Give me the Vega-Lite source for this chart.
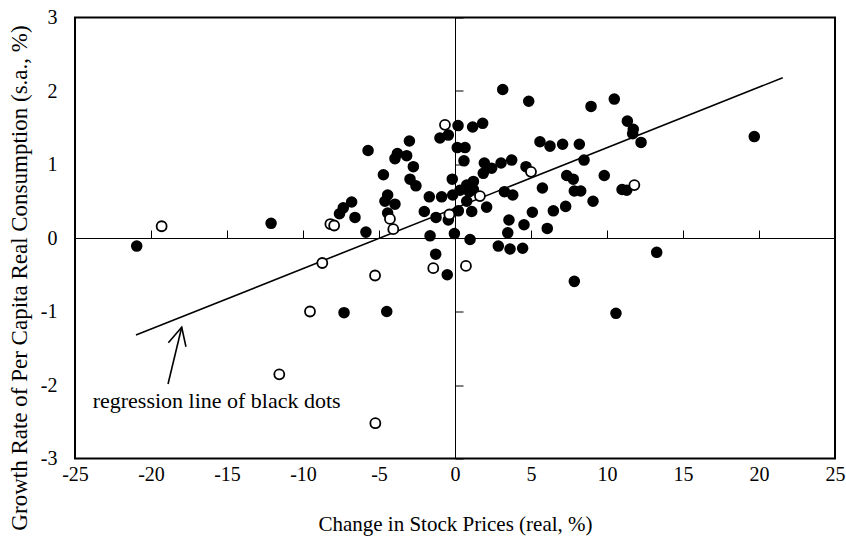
{
  "$schema": "https://vega.github.io/schema/vega-lite/v6.json",
  "width": 760,
  "height": 441,
  "autosize": {"type": "none"},
  "padding": {"left": 75, "top": 17.5, "right": 11, "bottom": 86.5},
  "background": "white",
  "config": {
    "view": {"stroke": "black", "strokeWidth": 2},
    "font": "Times New Roman, Liberation Serif, serif",
    "axis": {"grid": false, "labelColor": "black", "titleColor": "black", "titleFontWeight": "normal", "labelFont": "Times New Roman, Liberation Serif, serif", "titleFont": "Times New Roman, Liberation Serif, serif"}
  },
  "datasets": {
    "points": [
      {"x": -20.94, "y": -0.11, "type": "black"},
      {"x": -12.1, "y": 0.2, "type": "black"},
      {"x": -7.6, "y": 0.33, "type": "black"},
      {"x": -7.35, "y": 0.41, "type": "black"},
      {"x": -6.8, "y": 0.49, "type": "black"},
      {"x": -6.58, "y": 0.28, "type": "black"},
      {"x": -5.86, "y": 0.08, "type": "black"},
      {"x": -5.72, "y": 1.19, "type": "black"},
      {"x": -4.71, "y": 0.86, "type": "black"},
      {"x": -4.43, "y": 0.585, "type": "black"},
      {"x": -4.61, "y": 0.5, "type": "black"},
      {"x": -3.95, "y": 0.46, "type": "black"},
      {"x": -4.43, "y": 0.34, "type": "black"},
      {"x": -3.79, "y": 1.15, "type": "black"},
      {"x": -3.95, "y": 1.08, "type": "black"},
      {"x": -3.18, "y": 1.12, "type": "black"},
      {"x": -3.0, "y": 1.32, "type": "black"},
      {"x": -2.74, "y": 0.97, "type": "black"},
      {"x": -2.96, "y": 0.8, "type": "black"},
      {"x": -2.57, "y": 0.71, "type": "black"},
      {"x": -1.69, "y": 0.56, "type": "black"},
      {"x": -2.02, "y": 0.36, "type": "black"},
      {"x": -1.25, "y": 0.28, "type": "black"},
      {"x": -1.64, "y": 0.03, "type": "black"},
      {"x": -0.88, "y": 0.56, "type": "black"},
      {"x": -0.18, "y": 0.8, "type": "black"},
      {"x": -0.15, "y": 0.585, "type": "black"},
      {"x": -0.44, "y": 0.245, "type": "black"},
      {"x": -0.04, "y": 0.06, "type": "black"},
      {"x": -0.99, "y": 1.36, "type": "black"},
      {"x": -0.44, "y": 1.4, "type": "black"},
      {"x": 0.2, "y": 1.53, "type": "black"},
      {"x": 0.15, "y": 1.23, "type": "black"},
      {"x": 0.66, "y": 1.23, "type": "black"},
      {"x": 1.16, "y": 1.51, "type": "black"},
      {"x": 1.82, "y": 1.56, "type": "black"},
      {"x": 3.14, "y": 2.02, "type": "black"},
      {"x": 4.85, "y": 1.86, "type": "black"},
      {"x": 8.95, "y": 1.79, "type": "black"},
      {"x": 10.48, "y": 1.89, "type": "black"},
      {"x": 11.34, "y": 1.59, "type": "black"},
      {"x": 11.73, "y": 1.48, "type": "black"},
      {"x": 11.69, "y": 1.42, "type": "black"},
      {"x": 12.24, "y": 1.3, "type": "black"},
      {"x": 19.69, "y": 1.38, "type": "black"},
      {"x": 0.59, "y": 1.05, "type": "black"},
      {"x": 1.93, "y": 1.02, "type": "black"},
      {"x": 3.03, "y": 1.02, "type": "black"},
      {"x": 3.73, "y": 1.06, "type": "black"},
      {"x": 2.41, "y": 0.95, "type": "black"},
      {"x": 1.86, "y": 0.88, "type": "black"},
      {"x": 4.67, "y": 0.97, "type": "black"},
      {"x": 5.59, "y": 1.31, "type": "black"},
      {"x": 6.25, "y": 1.25, "type": "black"},
      {"x": 7.08, "y": 1.275, "type": "black"},
      {"x": 8.18, "y": 1.275, "type": "black"},
      {"x": 8.49, "y": 1.06, "type": "black"},
      {"x": 9.82, "y": 0.85, "type": "black"},
      {"x": 7.35, "y": 0.85, "type": "black"},
      {"x": 7.78, "y": 0.8, "type": "black"},
      {"x": 5.75, "y": 0.68, "type": "black"},
      {"x": 7.85, "y": 0.64, "type": "black"},
      {"x": 8.27, "y": 0.64, "type": "black"},
      {"x": 9.08, "y": 0.5, "type": "black"},
      {"x": 10.99, "y": 0.66, "type": "black"},
      {"x": 11.3, "y": 0.65, "type": "black"},
      {"x": 7.28, "y": 0.43, "type": "black"},
      {"x": 6.47, "y": 0.37, "type": "black"},
      {"x": 5.09, "y": 0.35, "type": "black"},
      {"x": 6.07, "y": 0.13, "type": "black"},
      {"x": 4.54, "y": 0.18, "type": "black"},
      {"x": 3.55, "y": 0.245, "type": "black"},
      {"x": 3.47, "y": 0.07, "type": "black"},
      {"x": 3.25, "y": 0.63, "type": "black"},
      {"x": 3.8, "y": 0.585, "type": "black"},
      {"x": 2.08, "y": 0.42, "type": "black"},
      {"x": 1.21, "y": 0.77, "type": "black"},
      {"x": 0.77, "y": 0.72, "type": "black"},
      {"x": 0.33, "y": 0.65, "type": "black"},
      {"x": 0.94, "y": 0.63, "type": "black"},
      {"x": 1.21, "y": 0.66, "type": "black"},
      {"x": 0.77, "y": 0.5, "type": "black"},
      {"x": 1.1, "y": 0.36, "type": "black"},
      {"x": 0.22, "y": 0.37, "type": "black"},
      {"x": 0.99, "y": -0.02, "type": "black"},
      {"x": 2.85, "y": -0.11, "type": "black"},
      {"x": 3.62, "y": -0.15, "type": "black"},
      {"x": 4.45, "y": -0.14, "type": "black"},
      {"x": 13.27, "y": -0.195, "type": "black"},
      {"x": -0.51, "y": -0.5, "type": "black"},
      {"x": 7.85, "y": -0.59, "type": "black"},
      {"x": 10.59, "y": -1.025, "type": "black"},
      {"x": -1.27, "y": -0.22, "type": "black"},
      {"x": -7.3, "y": -1.016, "type": "black"},
      {"x": -4.49, "y": -1.0, "type": "black"},
      {"x": -19.3, "y": 0.16, "type": "white"},
      {"x": -8.2, "y": 0.19, "type": "white"},
      {"x": -7.95, "y": 0.17, "type": "white"},
      {"x": -4.28, "y": 0.26, "type": "white"},
      {"x": -4.06, "y": 0.12, "type": "white"},
      {"x": -0.37, "y": 0.32, "type": "white"},
      {"x": -0.66, "y": 1.54, "type": "white"},
      {"x": 5.0, "y": 0.9, "type": "white"},
      {"x": 1.64, "y": 0.57, "type": "white"},
      {"x": 11.8, "y": 0.72, "type": "white"},
      {"x": 0.72, "y": -0.38, "type": "white"},
      {"x": -8.73, "y": -0.34, "type": "white"},
      {"x": -5.26, "y": -0.51, "type": "white"},
      {"x": -1.43, "y": -0.41, "type": "white"},
      {"x": -9.54, "y": -1.0, "type": "white"},
      {"x": -11.56, "y": -1.855, "type": "white"},
      {"x": -5.24, "y": -2.52, "type": "white"}
    ],
    "regression": [
      {"x": -20.99, "y": -1.32},
      {"x": 21.56, "y": 2.18}
    ],
    "arrow": [
      {"g": "shaft", "o": 1, "x": -18.88, "y": -1.986},
      {"g": "shaft", "o": 2, "x": -17.98, "y": -1.215},
      {"g": "head", "o": 1, "x": -18.86, "y": -1.424},
      {"g": "head", "o": 2, "x": -17.98, "y": -1.215},
      {"g": "head", "o": 3, "x": -17.7, "y": -1.479}
    ],
    "note": [
      {"x": -23.84, "y": -2.31, "label": "regression line of black dots"}
    ]
  },
  "resolve": {"axis": {"x": "independent", "y": "independent"}},
  "layer": [
    {
      "data": {"name": "regression"},
      "mark": {"type": "line", "color": "black", "strokeWidth": 1.6},
      "encoding": {
        "x": {"field": "x", "type": "quantitative", "scale": {"domain": [-25, 25], "nice": false, "zero": false},
          "axis": {"orient": "top", "offset": -220.5, "labels": false, "title": null, "domain": true, "domainColor": "black", "domainWidth": 1, "ticks": true, "tickSize": 8, "tickColor": "black", "tickWidth": 1, "values": [-20, -15, -10, -5, 5, 10, 15, 20]}},
        "y": {"field": "y", "type": "quantitative", "scale": {"domain": [-3, 3], "nice": false, "zero": false},
          "axis": {"orient": "right", "offset": -380, "labels": false, "title": null, "domain": true, "domainColor": "black", "domainWidth": 1, "ticks": true, "tickSize": 8, "tickColor": "black", "tickWidth": 1, "values": [-3, -2, -1, 1, 2, 3]}}
      }
    },
    {
      "data": {"name": "points"},
      "mark": {"type": "point", "shape": "circle", "stroke": "black", "strokeWidth": 1.8, "opacity": 1},
      "encoding": {
        "x": {"field": "x", "type": "quantitative", "scale": {"domain": [-25, 25], "nice": false, "zero": false},
          "axis": {"orient": "bottom", "title": "Change in Stock Prices (real, %)", "values": [-25, -20, -15, -10, -5, 0, 5, 10, 15, 20, 25], "labelExpr": "datum.value < 0 ? '-' + abs(datum.value) : '' + datum.value", "domain": false, "ticks": false, "tickSize": 0, "labelPadding": 6, "labelFont": "Times New Roman, Liberation Serif, serif", "labelFontSize": 20, "labelColor": "black", "labelFlush": false, "labelOverlap": false, "titleFont": "Times New Roman, Liberation Serif, serif", "titleFontSize": 21, "titleFontWeight": "normal", "titleBaseline": "alphabetic", "titleY": 71.5}},
        "y": {"field": "y", "type": "quantitative", "scale": {"domain": [-3, 3], "nice": false, "zero": false},
          "axis": {"orient": "left", "title": "Growth Rate of Per Capita Real Consumption (s.a., %)", "values": [-3, -2, -1, 0, 1, 2, 3], "labelExpr": "datum.value < 0 ? '-' + abs(datum.value) : '' + datum.value", "domain": false, "ticks": false, "tickSize": 0, "labelPadding": 18, "labelFont": "Times New Roman, Liberation Serif, serif", "labelFontSize": 20, "labelColor": "black", "labelFlush": false, "labelOverlap": false, "titleFont": "Times New Roman, Liberation Serif, serif", "titleFontSize": 23, "titleFontWeight": "normal", "titleAngle": 270, "titleBaseline": "alphabetic", "titleX": -48.5, "titleY": 260}},
        "fill": {"field": "type", "type": "nominal", "scale": {"domain": ["black", "white"], "range": ["black", "white"]}, "legend": null},
        "size": {"field": "type", "type": "nominal", "scale": {"domain": ["black", "white"], "range": [95, 100]}, "legend": null}
      }
    },
    {
      "data": {"name": "arrow"},
      "mark": {"type": "line", "color": "black", "strokeWidth": 1.6},
      "encoding": {
        "x": {"field": "x", "type": "quantitative", "scale": {"domain": [-25, 25], "nice": false, "zero": false}, "axis": null},
        "y": {"field": "y", "type": "quantitative", "scale": {"domain": [-3, 3], "nice": false, "zero": false}, "axis": null},
        "detail": {"field": "g", "type": "nominal"},
        "order": {"field": "o", "type": "quantitative"}
      }
    },
    {
      "data": {"name": "note"},
      "mark": {"type": "text", "align": "left", "baseline": "alphabetic", "fontSize": 22, "font": "Times New Roman, Liberation Serif, serif", "color": "black"},
      "encoding": {
        "x": {"field": "x", "type": "quantitative", "scale": {"domain": [-25, 25], "nice": false, "zero": false}, "axis": null},
        "y": {"field": "y", "type": "quantitative", "scale": {"domain": [-3, 3], "nice": false, "zero": false}, "axis": null},
        "text": {"field": "label", "type": "nominal"}
      }
    }
  ]
}
